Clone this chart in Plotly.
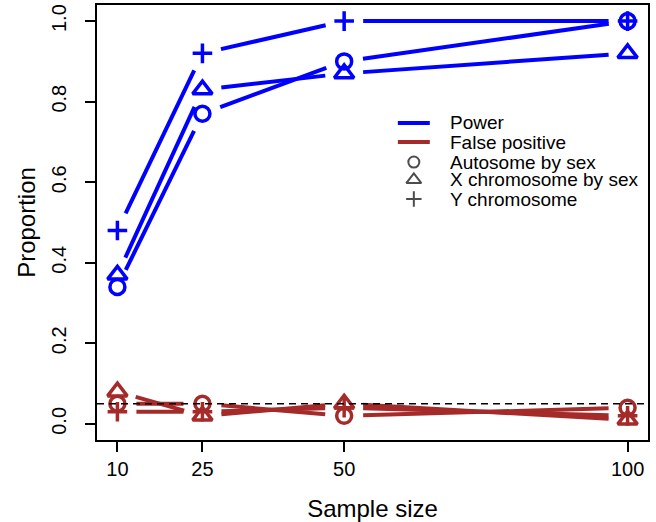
"""Power and false positive rate against sample size (R type="b" look)"""

import math

import plotly.graph_objects as go

# ---- data ----
sample_size = [10, 25, 50, 100]

power_autosome = [0.34, 0.77, 0.90, 1.00]
power_x = [0.37, 0.83, 0.87, 0.92]
power_y = [0.48, 0.92, 1.00, 1.00]

fp_autosome = [0.05, 0.05, 0.02, 0.04]
fp_x = [0.08, 0.02, 0.05, 0.01]
fp_y = [0.03, 0.03, 0.04, 0.02]

alpha = 0.05

legend_labels = ["Power", "False positive", "Autosome by sex",
                 "X chromosome by sex", "Y chromosome"]

# ---- style ----
BLUE = "#0000ff"
RED = "#a52a2a"
FONT = "Liberation Sans"

W, H = 656, 522
M = dict(l=97, r=8, t=5, b=82)
X_RANGE = [6.4, 103.6]
Y_RANGE = [-0.04, 1.04]

# pixels per data unit, used to leave the R-style gap round each point
PX_X = (W - M["l"] - M["r"]) / (X_RANGE[1] - X_RANGE[0])
PX_Y = (H - M["t"] - M["b"]) / (Y_RANGE[1] - Y_RANGE[0])
GAP = 19

SYMBOLS = {"autosome": ("circle-open", 15),
           "x": ("triangle-up-open", 17),
           "y": ("cross-thin-open", 14)}


def gapped(xs, ys, gap=GAP):
    """Segments between points, shortened by `gap` px at each end."""
    gx, gy = [], []
    for x0, y0, x1, y1 in zip(xs[:-1], ys[:-1], xs[1:], ys[1:]):
        d = math.hypot((x1 - x0) * PX_X, (y1 - y0) * PX_Y)
        if d <= 2 * gap:
            continue
        f = gap / d
        gx += [x0 + (x1 - x0) * f, x1 - (x1 - x0) * f, None]
        gy += [y0 + (y1 - y0) * f, y1 - (y1 - y0) * f, None]
    return gx, gy


fig = go.Figure()

fig.add_hline(y=alpha, line=dict(color="black", width=1.5, dash="7px,5px"))

series = [
    (power_autosome, BLUE, "autosome"),
    (power_x, BLUE, "x"),
    (power_y, BLUE, "y"),
    (fp_autosome, RED, "autosome"),
    (fp_x, RED, "x"),
    (fp_y, RED, "y"),
]

for values, color, kind in series:
    lx, ly = gapped(sample_size, values)
    fig.add_trace(go.Scatter(
        x=lx, y=ly, mode="lines",
        line=dict(color=color, width=4),
        hoverinfo="skip",
    ))
    symbol, size = SYMBOLS[kind]
    fig.add_trace(go.Scatter(
        x=sample_size, y=values, mode="markers",
        marker=dict(symbol=symbol, size=size, color=color,
                    line=dict(color=color, width=3.5)),
    ))

# ---- legend, drawn by hand to get R's tight rows ----
LEG_ROWS = [0.729, 0.685, 0.639, 0.598, 0.554]
LEG_X0, LEG_X1, LEG_SYM, LEG_TEXT = 0.546, 0.604, 0.575, 0.639

for row, color in zip(LEG_ROWS[:2], [BLUE, RED]):
    fig.add_shape(type="line", xref="paper", yref="paper",
                  x0=LEG_X0, x1=LEG_X1, y0=row, y1=row,
                  line=dict(color=color, width=4))

leg_syms = [("circle-open", 11), ("triangle-up-open", 13), ("cross-thin-open", 11)]
fig.add_trace(go.Scatter(
    x=[LEG_SYM] * 3, y=LEG_ROWS[2:], xaxis="x2", yaxis="y2",
    mode="markers",
    marker=dict(symbol=[s for s, _ in leg_syms], size=[z for _, z in leg_syms],
                color="black", line=dict(color="black", width=2)),
    hoverinfo="skip",
))

for row, label in zip(LEG_ROWS, legend_labels):
    fig.add_annotation(x=LEG_TEXT, y=row, xref="paper", yref="paper",
                       text=label, showarrow=False, xanchor="left",
                       yanchor="middle", font=dict(size=19), borderpad=0)

axis_common = dict(
    showline=True, mirror=True, linecolor="black", linewidth=1.5,
    ticks="outside", ticklen=10, tickwidth=1.5, tickcolor="black",
    showgrid=False, zeroline=False, tickfont=dict(size=20),
    automargin=False,
)

fig.update_layout(
    width=W, height=H, margin=M,
    plot_bgcolor="white", paper_bgcolor="white",
    font=dict(family=FONT, color="black"),
    showlegend=False,
    xaxis=dict(range=X_RANGE, tickvals=sample_size, ticklabelstandoff=0,
               title=dict(text="Sample size", font=dict(size=24), standoff=22),
               **axis_common),
    yaxis=dict(range=Y_RANGE, tick0=0, dtick=0.2, tickformat=".1f",
               tickangle=-90, ticklabelstandoff=11,
               title=dict(text="Proportion", font=dict(size=24), standoff=6),
               **axis_common),
    xaxis2=dict(overlaying="x", range=[0, 1], visible=False, fixedrange=True),
    yaxis2=dict(overlaying="y", range=[0, 1], visible=False, fixedrange=True),
)

# the page's default 8px body margin would push the figure off the window
fig.write_html("out.html", config={"displayModeBar": False},
               post_script="document.body.style.margin = '0';")
